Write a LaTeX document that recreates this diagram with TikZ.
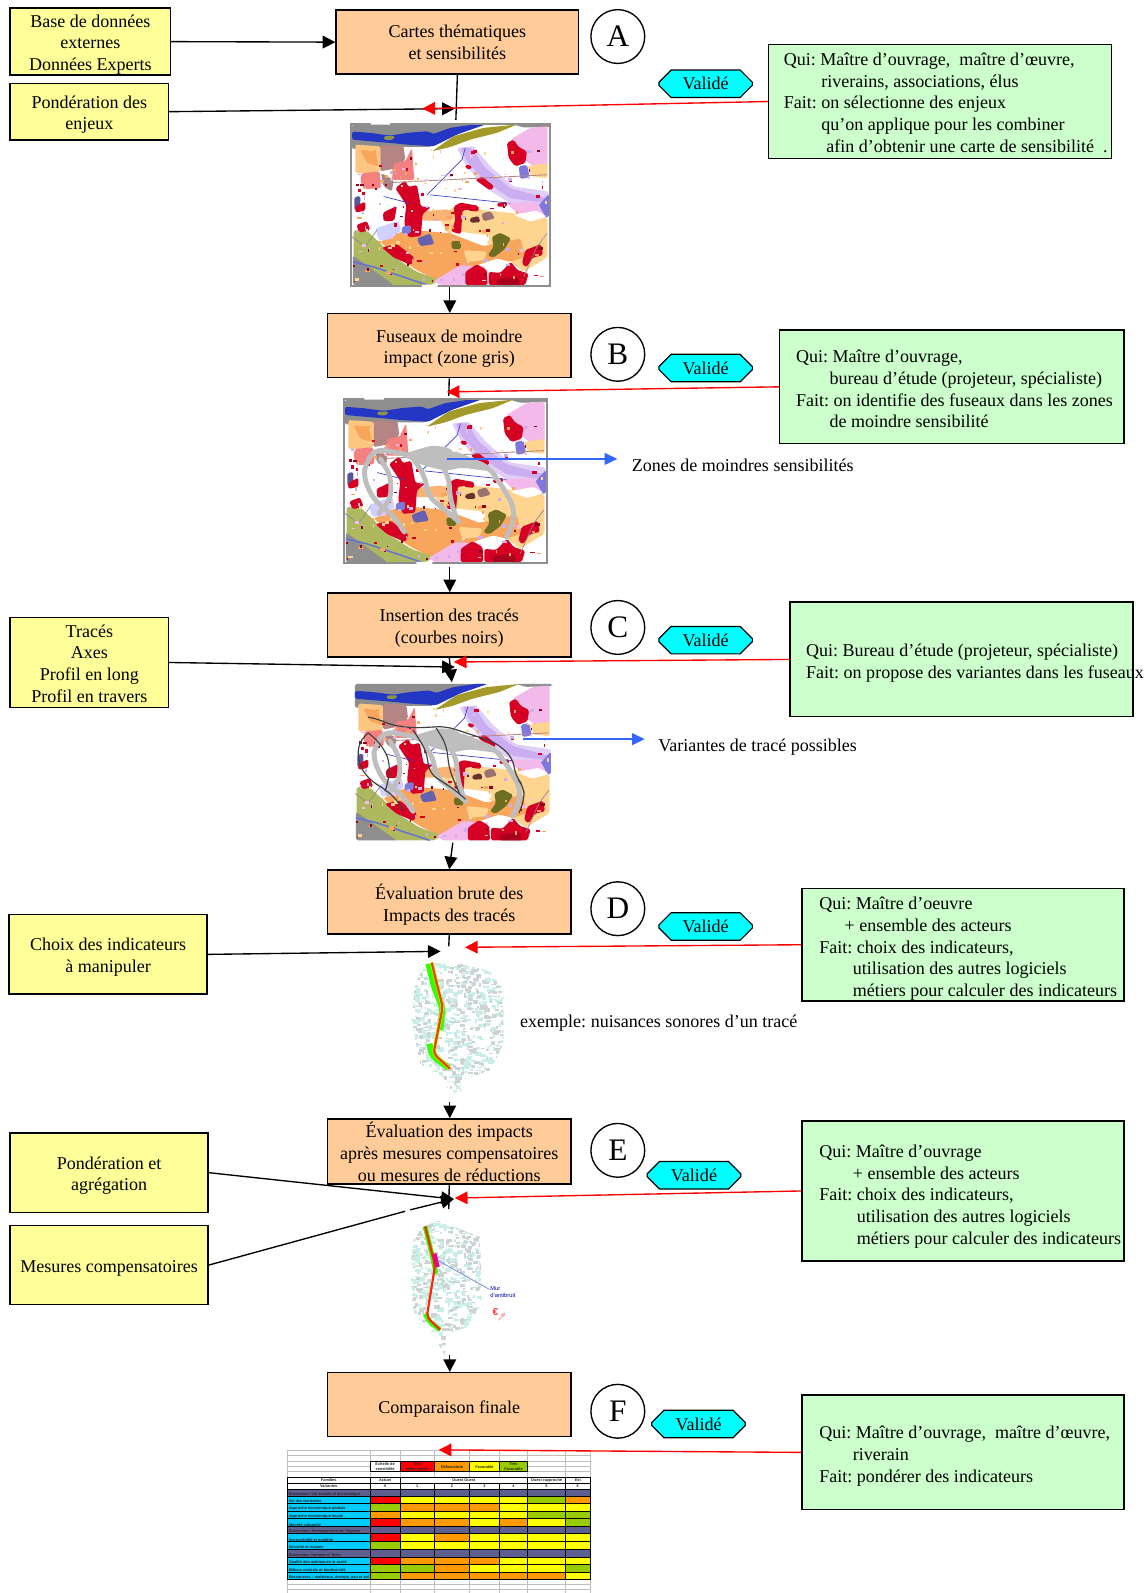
\documentclass[tikz,border=0pt]{standalone}
\usepackage{fontspec}
\setmainfont{Liberation Serif}
\newfontfamily\tabfont{Liberation Sans}
\usetikzlibrary{arrows.meta,shapes.misc}
\newlength\pxu \setlength\pxu{0.6pt}
\definecolor{ylw}{HTML}{FFFF99}
\definecolor{org}{HTML}{FFCC99}
\definecolor{grn}{HTML}{CCFFCC}
\definecolor{cyn}{HTML}{00FFFF}
\definecolor{mGray}{HTML}{8E8E8E}
\definecolor{mBlue}{HTML}{2436C4}
\definecolor{mOlive}{HTML}{A39A2A}
\definecolor{mGreen}{HTML}{AEB85F}
\definecolor{mMauve}{HTML}{B58585}
\definecolor{mSalmon}{HTML}{F48080}
\definecolor{mLight}{HTML}{FFD48F}
\definecolor{mOrange}{HTML}{F7A65C}
\definecolor{mRed}{HTML}{D60024}
\definecolor{mPink}{HTML}{F3B9EA}
\definecolor{mLilac}{HTML}{CBAEF2}
\definecolor{mViolet}{HTML}{7F78DC}
\definecolor{mDark}{HTML}{6E6E22}
\definecolor{mBrown}{HTML}{6B3030}
\definecolor{mRibbon}{HTML}{BEBEBE}
\definecolor{tSlate}{HTML}{5F5F8F}
\definecolor{tCyan}{HTML}{00CCFF}
\definecolor{tR}{HTML}{FF0000}
\definecolor{tO}{HTML}{FF9900}
\definecolor{tY}{HTML}{FFFF00}
\definecolor{tG}{HTML}{99CC00}
\definecolor{arrowBlue}{HTML}{3366FF}
\definecolor{cellTeal}{HTML}{C9EEE8}
\definecolor{cellGrey}{HTML}{CDD2D2}
\tikzset{
  txt/.style={font=\frenchspacing\fontsize{10.65}{12.9}\selectfont,align=center,inner sep=0pt},
  ybox/.style={txt,draw=black,line width=.8pt,fill=ylw},
  obox/.style={txt,draw=black,line width=.8pt,fill=org},
  qbox/.style={txt,draw=black,line width=.8pt,fill=grn},
  letter/.style={circle,draw=black,line width=.8pt,fill=white,minimum size=53\pxu,inner sep=0pt,font=\fontsize{18.5}{20}\selectfont},
  valid/.style={txt,chamfered rectangle,chamfered rectangle xsep=5\pxu,chamfered rectangle ysep=7\pxu,draw=black,line width=.7pt,fill=cyn,minimum width=92\pxu,minimum height=27\pxu},
  blk/.style={draw=black,line width=.8pt,-{Triangle[length=7.5pt,width=7.5pt]}},
  rd/.style={draw=red,line width=.8pt,-{Triangle[length=7.5pt,width=7.5pt]}},
  bluearrow/.style={draw=arrowBlue,line width=.8pt,-{Triangle[length=7.5pt,width=7pt]}},
  stub/.style={draw=black,line width=.8pt},
  rib/.style={draw=mRibbon,line width=2.9pt,line cap=round,line join=round,rounded corners=5pt},
  route/.style={draw=black!75,line width=.7pt,rounded corners=5pt},
  tcell/.style={draw=black,line width=.6pt},
  ttext/.style={inner sep=0pt,font=\tabfont\bfseries\fontsize{2.3}{2.8}\selectfont,text=black!85},
}
\newcommand\blob[2]{\fill[#1,rounded corners=1pt] #2 -- cycle;}
\newcommand\ct[2]{\raisebox{\dimexpr-#1\pxu-2\pxu\relax}[0pt][0pt]{\begin{tabular}{@{}c@{}}#2\end{tabular}}}
\newcommand\qtext[4]{\raisebox{\dimexpr-#3\pxu-2.5\pxu\relax}[0pt][0pt]{\makebox[#1\pxu][l]{\hspace*{#2\pxu}\begin{tabular}{@{}l@{}}#4\end{tabular}}}}
\newcommand\ind[1]{\hspace*{#1\pxu}}
\newcommand\landmap[1]{%
  \fill[white] (0,0) rectangle (600,488);
  \blob{mGray}{(5,5)--(400,5)--(300,30)--(240,72)--(140,72)--(5,78)}
  \blob{mBlue}{(5,26)--(60,30)--(120,38)--(170,30)--(230,25)--(250,33)--(300,15)--(370,5)--(405,5)--(320,35)--(250,70)--(170,65)--(120,60)--(60,55)--(5,50)}
  \blob{mGreen!80!black}{(100,40)--(135,40)--(125,52)--(100,50)}
  \blob{mOlive}{(245,85)--(310,40)--(400,15)--(500,5)--(440,30)--(360,50)--(300,72)}
  \blob{mGray}{(490,5)--(600,5)--(600,12)--(520,14)}
  \blob{mLight!70!mOrange}{(15,65)--(90,70)--(90,145)--(40,150)--(15,150)}
  \blob{mOrange}{(30,80)--(75,85)--(85,130)--(50,120)}
  \blob{mMauve}{(90,65)--(160,70)--(165,110)--(140,135)--(90,145)}
  \blob{mSalmon}{(130,120)--(165,115)--(185,75)--(192,170)--(125,170)}
  \blob{mSalmon}{(35,150)--(88,145)--(92,195)--(40,198)--(30,170)}
  \blob{mMauve!80!gray}{(92,150)--(130,170)--(125,205)--(100,190)}
  \blob{mLilac!60!white}{(320,75)--(370,70)--(420,130)--(490,190)--(595,205)--(595,250)--(480,240)--(400,190)--(345,125)}
  \blob{mLilac}{(330,75)--(365,75)--(400,130)--(480,195)--(590,225)--(590,240)--(480,225)--(400,170)--(350,115)}
  \blob{mPink}{(480,50)--(540,15)--(592,10)--(592,130)--(550,130)--(520,110)}
  \blob{mLight}{(530,130)--(592,120)--(592,165)--(545,160)}
  \blob{mRed}{(470,60)--(490,50)--(505,72)--(530,85)--(525,120)--(495,130)--(475,105)}
  \blob{mViolet}{(505,130)--(530,125)--(538,162)--(510,168)}
  \blob{mViolet}{(560,252)--(596,212)--(596,282)--(570,282)}
  \blob{mPink}{(470,240)--(560,235)--(585,280)--(500,270)}
  \blob{mLight}{(270,290)--(310,250)--(490,270)--(592,285)--(592,400)--(520,445)--(400,350)--(300,340)}
  \blob{white}{(300,322)--(410,335)--(420,345)--(405,362)--(320,345)}
  \blob{white}{(490,275)--(560,262)--(590,280)--(540,295)}
  \blob{mOrange!85!white}{(215,265)--(290,258)--(322,270)--(300,292)--(215,292)}
  \blob{mOrange}{(90,355)--(170,318)--(300,330)--(400,368)--(510,345)--(525,400)--(480,415)--(440,405)--(320,445)--(260,470)--(200,440)--(140,400)}
  \blob{mLight}{(340,380)--(410,385)--(400,410)--(350,415)}
  \blob{mGreen}{(10,322)--(45,318)--(85,355)--(130,400)--(200,445)--(265,468)--(245,484)--(120,484)--(10,425)}
  \blob{mGray}{(8,396)--(130,484)--(8,484)}
  \blob{mPink}{(250,472)--(330,425)--(410,430)--(340,484)--(270,484)}
  \blob{blue!18}{(75,315)--(145,292)--(152,322)--(120,348)--(85,350)}
  \blob{mRed}{(135,195)--(165,172)--(175,192)--(200,185)--(212,250)--(242,252)--(217,272)--(212,338)--(175,342)--(162,300)--(168,245)}
  \blob{mViolet}{(155,310)--(182,305)--(182,330)--(155,332)}
  \blob{mViolet!80!black}{(200,345)--(240,330)--(252,362)--(210,368)}
  \blob{mViolet!70!black}{(12,222)--(30,218)--(30,260)--(12,260)}
  \blob{mRed}{(15,250)--(45,235)--(45,262)--(15,268)}
  \blob{mRed}{(98,268)--(140,248)--(132,292)--(100,294)}
  \blob{mRed}{(18,305)--(50,293)--(60,320)--(28,328)}
  \blob{mRed}{(310,250)--(330,238)--(385,248)--(385,265)--(337,260)--(332,332)--(303,325)--(315,290)}
  \blob{mBrown}{(358,285)--(385,278)--(390,297)--(360,298)}
  \blob{mMauve!85!black}{(393,272)--(420,263)--(434,285)--(400,294)}
  \blob{mDark}{(425,340)--(450,328)--(482,345)--(462,378)--(430,402)--(412,396)--(430,370)}
  \blob{mDark}{(303,353)--(332,353)--(332,377)--(305,377)}
  \blob{mRed}{(345,445)--(380,422)--(410,440)--(412,484)--(345,484)}
  \blob{mRed}{(415,445)--(450,448)--(482,415)--(502,440)--(535,450)--(525,484)--(415,484)}
  \blob{mRed!80!black}{(440,465)--(500,460)--(510,484)--(440,484)}
  \blob{mRed}{(525,380)--(572,362)--(578,395)--(548,402)--(528,432)--(515,420)}
  \blob{mRed}{(375,170)--(395,160)--(432,190)--(420,202)}
  \blob{mRed}{(95,372)--(140,362)--(192,402)--(182,425)--(130,402)}
  \blob{mRed}{(345,125)--(365,128)--(362,140)--(345,135)}
  \blob{mRed}{(440,240)--(470,235)--(470,250)--(440,250)}
  \draw[mMauve,line width=.5pt] (90,180) -- (590,155);
  \draw[blue!50!gray,line width=.4pt] (230,215) -- (310,135) -- (335,110) -- (345,75);
  \draw[blue!50!gray,line width=.4pt] (100,220) -- (180,240) (240,215) -- (480,240);
  \draw[black!45,line width=.4pt] (5,340) -- (45,370) -- (80,320) (520,460) -- (560,370) -- (590,330);
  \draw[mBlue!70,line width=.9pt] (8,415) -- (70,430) -- (230,484);
  \pgfmathsetseed{#1}
  \foreach \i in {1,...,170}{
    \pgfmathsetmacro\sx{8+rnd*575}
    \pgfmathsetmacro\sy{75+rnd*400}
    \pgfmathsetmacro\sw{3+rnd*11}
    \pgfmathsetmacro\sh{3+rnd*8}
    \pgfmathparse{int(rnd*6)}
    \ifcase\pgfmathresult\relax \def\scol{mRed}\or \def\scol{mOrange}\or \def\scol{mLilac}\or \def\scol{mLight}\or \def\scol{mPink}\or \def\scol{mRed!70!black}\fi
    \fill[\scol] (\sx,\sy) rectangle ++(\sw,\sh);
  }
}
\newcommand\mapframe{%
  \draw[mGray,line width=1.2pt] (2,2) rectangle (598,486);
  \fill[white] (62,-3) rectangle (120,5) (215,483) rectangle (262,493);
}
\newcommand\ribbons{%
  \fill[mRibbon,rounded corners=3pt] (165,168) -- (260,140) -- (310,145) -- (335,170) -- (400,190) -- (445,218) -- (350,205) -- (300,215) -- (240,200) -- cycle;
  \draw[rib] (180,165) -- (95,150) -- (65,195) -- (60,235) -- (90,300) -- (150,350) -- (180,395);
  \draw[rib] (110,180) -- (140,230) -- (140,300) -- (105,340);
  \draw[rib] (200,170) -- (240,230) -- (250,290) -- (300,330) -- (340,365);
  \draw[rib] (270,170) -- (310,230) -- (315,300) -- (335,360);
  \draw[rib] (330,165) -- (430,205) -- (480,280) -- (505,330) -- (495,380) -- (480,410);
}
\newcommand\routes{%
  \draw[route] (45,107) -- (70,110) -- (110,130) -- (180,140) -- (280,135) -- (340,155) -- (430,185) -- (480,230) -- (490,290) -- (515,320) -- (515,360) -- (500,400);
  \draw[route] (45,155) -- (15,185) -- (15,250) -- (50,300) -- (100,330) -- (140,370) -- (150,395);
  \draw[route] (45,155) -- (80,185) -- (110,240) -- (105,310) -- (100,322);
  \draw[route] (180,145) -- (220,210) -- (230,280) -- (270,305) -- (320,340) -- (335,355);
  \draw[route] (250,140) -- (280,190) -- (290,270) -- (320,340);
}
\newcommand\streetdots[1]{%
  \begin{scope}
    \clip #1 -- cycle;
    \pgfmathsetseed{7}
    \foreach \i in {1,...,900}{
      \pgfmathsetmacro\sx{60+rnd*290}
      \pgfmathsetmacro\sy{80+rnd*430}
      \pgfmathsetmacro\sw{4+rnd*14}
      \pgfmathsetmacro\sh{3+rnd*9}
      \pgfmathparse{rnd<0.55 ? "cellTeal" : "cellGrey"}
      \fill[\pgfmathresult] (\sx,\sy) rectangle ++(\sw,\sh);
    }
  \end{scope}
}
\begin{document}
\begin{tikzpicture}[x=0.6pt,y=-0.6pt]
\useasboundingbox (0,0) rectangle (1130,1569);
% ---------- maps
\begin{scope}[shift={(345,121)},xscale=197/600,yscale=161/488]
  \landmap{11} \mapframe
\end{scope}
\begin{scope}[shift={(338,392)},xscale=201/600,yscale=163/488]
  \landmap{11} \ribbons \mapframe
\end{scope}
\begin{scope}[shift={(348,672)},xscale=196/600,yscale=157/488]
  \clip (0,0) rectangle (600,488);
  \landmap{11} \ribbons \routes
\end{scope}
% ---------- street maps
\begin{scope}[shift={(384.2,916.3)},scale=.3284]
  \streetdots{(110,95) -- (220,95) -- (300,125) -- (340,180) -- (340,340) -- (300,420) -- (210,450) -- (215,480) -- (180,500) -- (160,440) -- (90,400) -- (65,270) -- (75,160)}
  \draw[green!80!yellow,line width=3.6pt,line join=round,rounded corners=3pt] (115,100) -- (132,170) -- (158,235) -- (150,300);
  \draw[green!80!yellow,line width=3.6pt,line join=round,rounded corners=3pt] (118,340) -- (125,375) -- (175,412);
  \draw[yellow!80!orange,line width=2pt,line join=round,rounded corners=3pt] (125,97) -- (140,160) -- (158,230) -- (130,370) -- (180,415);
  \draw[orange!70!red!85!black,line width=1.3pt,line join=round,rounded corners=3pt] (125,97) -- (140,160) -- (158,230) -- (130,370) -- (180,415);
\end{scope}
\begin{scope}[shift={(384.2,1172.4)},scale=.3284]
  \streetdots{(100,105) -- (150,90) -- (230,125) -- (270,140) -- (275,340) -- (230,410) -- (170,430) -- (165,500) -- (130,430) -- (70,370) -- (60,230) -- (70,150)}
  \draw[green!80!yellow,line width=2.8pt,line join=round,rounded corners=3pt] (105,108) -- (125,190) -- (138,250);
  \draw[green!80!yellow,line width=2.8pt,line join=round,rounded corners=3pt] (105,370) -- (118,395) -- (150,418);
  \draw[red!70!orange,line width=1.3pt,line join=round,rounded corners=3pt] (105,108) -- (135,225) -- (110,380) -- (150,418);
  \draw[magenta,line width=2.4pt] (133,190) -- (143,230);
  \draw[blue!50!gray!70,line width=.4pt] (143,210) -- (298,297);
  \node[inner sep=0pt,anchor=west,text=blue!70!black,align=left,font=\tabfont\fontsize{3.4}{4.6}\selectfont] (murlabel) at (300,305) {Mur\\d’antibruit};
  \node[inner sep=0pt,text=red!80,font=\tabfont\bfseries\fontsize{6}{6}\selectfont] (euro) at (316,364) {€};
  \draw[red!40,line width=.5pt,-{Straight Barb[length=2pt,width=2pt]}] (325,390) -- (345,367);
\end{scope}
% ---------- table
\begin{scope}[shift={(266,1408.9)},scale=.3284]
  \foreach \gx in {52,300,390,493,598,688,772,886,960}
    \draw[gray!50,line width=.7pt] (\gx,60) -- (\gx,489);
  \foreach \gy in {60,76,92,108,124,140,446,462,478}
    \draw[gray!50,line width=.7pt] (52,\gy) -- (960,\gy);
  \foreach \xa/\xb/\cu/\lab in {300/390/white/{Echelle de\\sensibilité},390/493/tR/{Très\\défavorable},493/598/tO/{\\Défavorable},598/688/tY/{\\Favorable},688/772/tG/{Très\\Favorable}}{
    \draw[tcell,fill=\cu] (\xa,92) rectangle (\xb,124);
    \node[ttext,align=center] (leg\xa) at ({(\xa+\xb)/2},108) {\lab};
  }
  \foreach \xa/\xb/\lab in {52/300/Familles,300/390/Actuel,390/772/Ouest Ouest,772/886/Ouest rapproché,886/960/Est}{
    \draw[tcell,fill=white] (\xa,140) rectangle (\xb,158);
    \node[ttext] (hd\xa) at ({(\xa+\xb)/2},149) {\lab};
  }
  \foreach \xa/\xb/\lab in {52/300/Variantes,300/390/0,390/493/1,493/598/2,598/688/3,688/772/4,772/886/5,886/960/6}{
    \draw[tcell,fill=white] (\xa,158) rectangle (\xb,177);
    \node[ttext] (vr\xa) at ({(\xa+\xb)/2},167.5) {\lab};
  }
  \foreach \ya/\yb/\lc/\lab/\ca/\cb/\cd/\ce/\cf/\cg/\ch in {
    177/197/tSlate/{Dimension: Vie sociale et économique}/tSlate/tSlate/tSlate/tSlate/tSlate/tSlate/tSlate,
    197/218/tCyan/{Vie des territoires}/tR/tY/tY/tY/tY/tG/tO,
    218/242/tCyan/{Approche économique globale}/tG/tO/tO/tO/tY/tY/tY,
    242/264/tCyan/{Approche économique locale}/tO/tY/tY/tY/tY/tG/tG,
    264/288/tCyan/{Identité culturelle}/tR/tO/tO/tY/tO/tY/tG,
    288/310/tSlate/{Dimension: Aménagement de l’espace}/tSlate/tSlate/tSlate/tSlate/tSlate/tSlate/tSlate,
    310/333/tCyan/{Accessibilité et mobilité}/tR/tY/tO/tY/tY/tY/tY,
    333/357/tCyan/{Sécurité et risques}/tG/tY/tY/tY/tY/tY/tY,
    357/380/tSlate/{Dimension: Homme et Terre}/tSlate/tSlate/tSlate/tSlate/tSlate/tSlate/tSlate,
    380/403/tCyan/{Qualité des ambiances et santé}/tR/tO/tO/tO/tY/tY/tY,
    403/425/tCyan/{Milieux naturels et biodiversité}/tG/tG/tO/tY/tY/tY/tG,
    425/446/tCyan/{Ressources : matériaux, énergie, eau et sol}/tG/tO/tO/tO/tO/tO/tY}{
    \draw[tcell,fill=\lc] (52,\ya) rectangle (300,\yb);
    \node[ttext,anchor=south west] (rw\ya) at (55,\yb) {\lab};
    \foreach \xa/\xb/\cu in {300/390/\ca,390/493/\cb,493/598/\cd,598/688/\ce,688/772/\cf,772/886/\cg,886/960/\ch}
      \draw[tcell,fill=\cu] (\xa,\ya) rectangle (\xb,\yb);
  }
\end{scope}
% ---------- yellow boxes
\node[ybox,minimum width=158\pxu,minimum height=66\pxu] (y1) at (89,41) {\ct{5.5}{Base de données\\externes\\Données Experts}};
\node[ybox,minimum width=156\pxu,minimum height=56\pxu] (y2) at (88,110) {\ct{5.5}{Pondération des\\enjeux}};
\node[ybox,minimum width=156\pxu,minimum height=89\pxu] (y3) at (88,652.5) {\ct{5.5}{Tracés\\Axes\\Profil en long\\Profil en travers}};
\node[ybox,minimum width=195\pxu,minimum height=78\pxu] (y4) at (106.5,940) {\ct{5}{Choix des indicateurs\\à manipuler}};
\node[ybox,minimum width=195\pxu,minimum height=78\pxu] (y5) at (107.5,1155) {\ct{5.5}{Pondération et\\agrégation}};
\node[ybox,minimum width=195\pxu,minimum height=78\pxu] (y6) at (107.5,1246) {\ct{6}{Mesures compensatoires}};
% ---------- orange boxes
\node[obox,minimum width=239\pxu,minimum height=63\pxu] (a) at (450.5,41.5) {\ct{4.5}{Cartes thématiques\\et sensibilités}};
\node[obox,minimum width=240\pxu,minimum height=63\pxu] (b) at (442.5,340.5) {\ct{5.5}{Fuseaux de moindre\\impact (zone gris)}};
\node[obox,minimum width=240\pxu,minimum height=63\pxu] (c) at (442.5,615.5) {\ct{5.5}{Insertion des tracés\\(courbes noirs)}};
\node[obox,minimum width=240\pxu,minimum height=63\pxu] (d) at (442.5,888.5) {\ct{6.5}{Évaluation brute des\\Impacts des tracés}};
\node[obox,minimum width=240\pxu,minimum height=64\pxu] (e) at (442.5,1134) {\ct{6.5}{Évaluation des impacts\\après mesures compensatoires\\ou mesures de réductions}};
\node[obox,minimum width=240\pxu,minimum height=63\pxu] (f) at (442.5,1383.5) {\ct{6.5}{Comparaison finale}};
% ---------- letters
\node[letter] (la) at (608.5,36) {A};
\node[letter] (lb) at (608.5,349) {B};
\node[letter] (lc) at (608.5,618) {C};
\node[letter] (ld) at (608.5,895) {D};
\node[letter] (le) at (608.5,1133) {E};
\node[letter] (lf) at (608.5,1390) {F};
% ---------- validé
\node[valid] (va) at (695,82.5) {Validé};
\node[valid] (vb) at (695,362.5) {Validé};
\node[valid] (vc) at (695,630.5) {Validé};
\node[valid] (vd) at (695,912.5) {Validé};
\node[valid] (ve) at (683.5,1157.5) {Validé};
\node[valid] (vf) at (688,1402.5) {Validé};
% ---------- green boxes
\node[qbox,minimum width=338\pxu,minimum height=112\pxu] (qa) at (926,100) {\qtext{338}{15}{5}{Qui: Maître d’ouvrage,\ \ maître d’œuvre,\\\ind{37}riverains, associations, élus\\Fait: on sélectionne des enjeux\\\ind{37}qu’on applique pour les combiner\\\ind{42}afin d’obtenir une carte de sensibilité\ \ .}};
\node[qbox,minimum width=339\pxu,minimum height=112\pxu] (qb) at (937.5,381) {\qtext{339}{16}{6}{Qui: Maître d’ouvrage,\\\ind{33}bureau d’étude (projeteur, spécialiste)\\Fait: on identifie des fuseaux dans les zones\\\ind{33}de moindre sensibilité}};
\node[qbox,minimum width=338\pxu,minimum height=113\pxu] (qc) at (947,649.5) {\qtext{338}{16}{5.5}{Qui: Bureau d’étude (projeteur, spécialiste)\\Fait: on propose des variantes dans les fuseaux}};
\node[qbox,minimum width=317\pxu,minimum height=111\pxu] (qd) at (948.5,930.5) {\qtext{317}{17}{6}{Qui: Maître d’oeuvre\\\ind{25}+ ensemble des acteurs\\Fait: choix des indicateurs,\\\ind{33}utilisation des autres logiciels\\\ind{33}métiers pour calculer des indicateurs}};
\node[qbox,minimum width=317\pxu,minimum height=138\pxu] (qe) at (948.5,1173) {\qtext{317}{17}{7.5}{Qui: Maître d’ouvrage\\\ind{33}+ ensemble des acteurs\\Fait: choix des indicateurs,\\\ind{37}utilisation des autres logiciels\\\ind{37}métiers pour calculer des indicateurs}};
\node[qbox,minimum width=317\pxu,minimum height=113\pxu] (qf) at (948.5,1430.5) {\qtext{317}{17}{6}{Qui: Maître d’ouvrage,\ \ maître d’œuvre,\\\ind{33}riverain\\Fait: pondérer des indicateurs}};
% ---------- free labels
\node[txt,anchor=west] (zones) at (622,458) {Zones de moindres sensibilités};
\node[txt,anchor=west] (varia) at (648,736) {Variantes de tracé possibles};
\node[txt,anchor=west] (exem) at (512,1008) {exemple: nuisances sonores d’un tracé};
% ---------- connector ends
\coordinate (ja) at (449,118);
\coordinate (jab) at (448,107);
\coordinate (jar) at (416,107);
\coordinate (ma) at (443,283);
\coordinate (jb) at (442,390);
\coordinate (jbr) at (440,386);
\coordinate (mb) at (443,558);
\coordinate (blb) at (440,452);
\coordinate (bla) at (608,452);
\coordinate (jc) at (445,672);
\coordinate (jcb) at (448,657);
\coordinate (jcr) at (447,652);
\coordinate (blc) at (515,728);
\coordinate (blca) at (635,728);
\coordinate (mc) at (446,830);
\coordinate (jd) at (442,932);
\coordinate (jdb) at (434,937);
\coordinate (jdr) at (458,933);
\coordinate (md) at (443,1085);
\coordinate (je) at (442,1191);
\coordinate (jeb) at (447,1181);
\coordinate (jer) at (448,1180);
\coordinate (gapa) at (399,1193);
\coordinate (gapb) at (404,1191.6);
\coordinate (me) at (443,1335);
\coordinate (jfr) at (432,1428);
% ---------- connectors
\draw[blk] (y1.east) -- (a.west);
\draw[stub] (a.south) -- (ja);
\draw[blk] (y2.east) -- (jab);
\draw[rd] (qa.west) -- (jar);
\draw[blk] (ma) -- (ma |- b.north);
\draw[stub] (b.south) -- (jb);
\draw[rd] (qb.west) -- (jbr);
\draw[bluearrow] (blb) -- (bla);
\draw[blk] (mb) -- (mb |- c.north);
\draw[blk] (c.south) -- (jc);
\draw[blk] (y3.east) -- (jcb);
\draw[rd] (qc.west) -- (jcr);
\draw[bluearrow] (blc) -- (blca);
\draw[blk] (mc) -- (d.north);
\draw[stub] (d.south) -- (jd);
\draw[blk] (y4.east) -- (jdb);
\draw[rd] (qd.west) -- (jdr);
\draw[blk] (md) -- (md |- e.north);
\draw[stub] (e.south) -- (je);
\draw[blk] (y5.east) -- (jeb);
\draw[stub] (y6.east) -- (gapa);
\draw[blk] (gapb) -- (jeb);
\draw[rd] (qe.west) -- (jer);
\draw[blk] (me) -- (me |- f.north);
\draw[rd] (qf.west) -- (jfr);
\end{tikzpicture}
\end{document}
